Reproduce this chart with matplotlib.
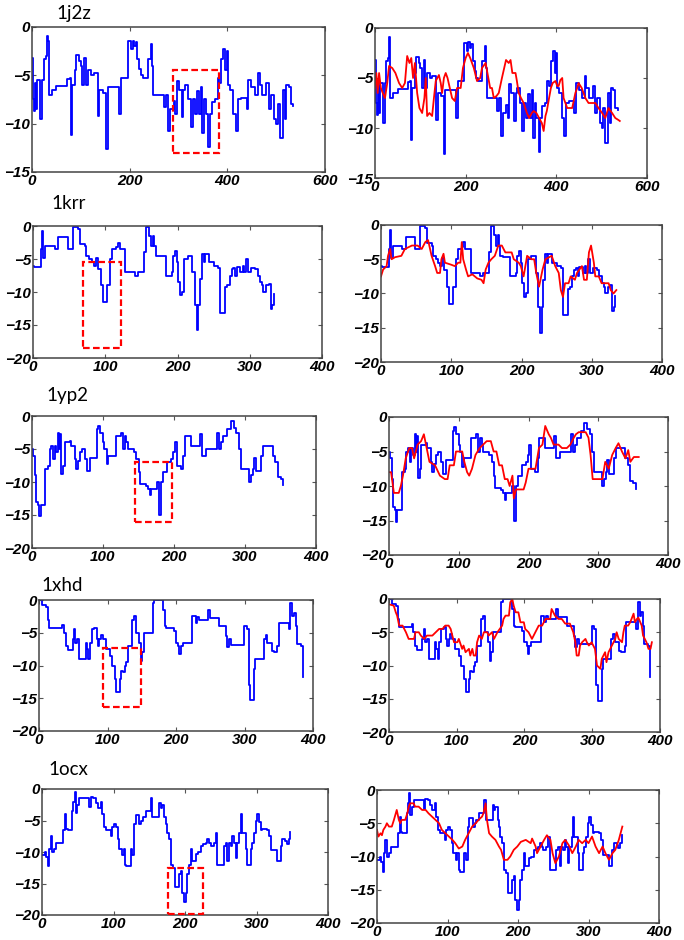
import matplotlib
matplotlib.use("Agg")
import matplotlib.pyplot as plt
from matplotlib.patches import Rectangle
from matplotlib.font_manager import FontProperties

# ---------------- data (x, y) ----------------
names = ["1j2z", "1krr", "1yp2", "1xhd", "1ocx"]

j2z_blue = [(0,-3.2),(2,-7.5),(4,-8.7),(6,-5.8),(8,-8.5),(10,-5.5),(17,-9.5),(21,-5.5),(24,-3.3),(28,-3.0),(30,-0.9),(32,-1.5),(34,-7.0),(40,-6.5),(50,-6.1),(72,-5.4),(78,-5.3),(79,-8.8),(80,-11.2),(82,-6.0),(88,-4.5),(91,-2.9),(96,-3.5),(100,-4.0),(103,-6.0),(107,-3.2),(111,-6.0),(115,-4.5),(121,-5.0),(126,-4.8),(135,-9.2),(138,-6.5),(146,-6.8),(152,-12.6),(155,-6.2),(179,-9.0),(183,-5.3),(196,-1.5),(203,-2.3),(206,-1.4),(209,-2.0),(212,-1.6),(216,-3.3),(220,-4.3),(223,-5.0),(228,-5.3),(237,-3.3),(243,-1.8),(245,-4.0),(247,-7.0),(270,-8.3),(274,-7.0),(279,-10.8),(282,-8.5),(290,-7.7),(293,-9.0),(296,-5.6),(301,-6.5),(307,-9.3),(310,-6.5),(314,-6.0),(320,-7.5),(325,-10.3),(329,-7.5),(333,-9.0),(337,-6.6),(342,-9.0),(346,-6.2),(349,-11.0),(352,-7.5),(356,-9.0),(361,-12.4),(364,-9.0),(368,-7.8),(375,-7.5),(380,-5.3),(383,-5.8),(388,-3.3),(392,-2.3),(396,-4.5),(399,-2.5),(402,-6.0),(406,-6.5),(412,-9.0),(418,-10.8),(422,-7.5),(428,-7.3),(440,-8.5),(443,-5.5),(449,-6.2),(456,-7.0),(463,-4.8),(466,-6.0),(472,-7.0),(480,-5.8),(485,-8.5),(490,-7.0),(496,-9.5),(500,-10.0),(504,-8.0),(508,-11.5),(515,-6.5),(518,-9.5),(521,-6.0),(526,-6.2),(530,-8.0),(535,-8.2)]

j2z_red = [(0,-6.0),(3,-4.5),(6,-6.5),(9,-4.5),(13,-6.0),(17,-6.5),(22,-7.0),(27,-5.5),(31,-3.8),(38,-4.0),(45,-4.5),(53,-5.5),(60,-6.0),(66,-5.5),(71,-2.8),(76,-3.5),(80,-3.0),(84,-5.0),(88,-3.5),(93,-6.5),(98,-8.0),(104,-8.5),(109,-7.0),(112,-5.0),(115,-8.8),(120,-8.5),(126,-8.8),(130,-7.0),(134,-5.3),(141,-4.7),(145,-5.5),(148,-6.5),(152,-5.0),(156,-4.5),(160,-5.0),(165,-6.0),(170,-7.0),(176,-7.3),(181,-6.0),(189,-6.0),(194,-4.0),(200,-3.0),(205,-2.5),(210,-3.0),(214,-3.5),(218,-4.0),(225,-5.3),(232,-5.0),(236,-4.0),(244,-3.5),(250,-5.0),(254,-6.0),(258,-6.0),(262,-7.0),(268,-6.8),(273,-6.5),(280,-5.0),(285,-4.0),(289,-3.2),(295,-3.5),(299,-3.2),(303,-4.5),(310,-4.5),(313,-5.3),(317,-6.5),(322,-7.0),(328,-7.5),(335,-8.5),(340,-9.0),(346,-8.5),(350,-8.3),(356,-8.5),(362,-9.0),(368,-9.5),(372,-10.3),(376,-8.8),(379,-8.3),(384,-7.0),(388,-6.0),(392,-5.5),(398,-5.3),(402,-5.8),(405,-5.8),(409,-5.2),(413,-5.0),(416,-7.0),(420,-7.5),(424,-8.0),(435,-8.0),(442,-6.5),(446,-6.0),(449,-5.5),(456,-6.0),(464,-7.0),(471,-7.5),(486,-7.5),(493,-8.0),(501,-8.5),(508,-9.0),(515,-8.0),(523,-8.5),(530,-9.0),(537,-9.2),(540,-9.3)]

krr_blue = [(0,-6.0),(2,-6.2),(11,-3.5),(13,-0.7),(14,-4.8),(17,-3.0),(30,-3.5),(35,-1.7),(49,-3.5),(56,-0.2),(62,-0.5),(65,-2.7),(72,-3.0),(74,-4.5),(78,-5.0),(81,-5.5),(84,-6.0),(87,-4.8),(90,-6.5),(94,-9.0),(97,-11.5),(103,-9.0),(107,-5.0),(110,-3.5),(115,-3.2),(117,-2.5),(120,-3.5),(128,-7.0),(141,-7.5),(145,-7.0),(154,-4.0),(157,-0.2),(161,-1.5),(163,-3.0),(166,-1.5),(168,-3.0),(170,-4.5),(173,-4.6),(184,-7.5),(192,-7.0),(194,-4.5),(196,-3.8),(199,-5.5),(201,-8.5),(203,-10.5),(206,-10.0),(209,-5.0),(214,-4.5),(220,-7.0),(224,-12.0),(227,-15.8),(229,-12.0),(231,-8.0),(234,-4.2),(236,-5.5),(238,-4.3),(244,-5.5),(250,-6.0),(256,-6.3),(259,-13.2),(266,-9.3),(269,-9.0),(272,-7.5),(275,-6.5),(277,-6.3),(280,-7.5),(282,-6.2),(287,-7.0),(290,-6.0),(292,-7.0),(295,-5.0),(298,-7.0),(302,-6.3),(307,-6.5),(311,-7.5),(314,-8.5),(317,-9.0),(319,-10.0),(323,-9.0),(326,-8.8),(329,-12.5),(331,-12.0),(333,-10.3)]

krr_red = [(0,-7.5),(3,-6.5),(8,-6.0),(10,-4.5),(13,-3.5),(15,-5.0),(20,-4.7),(29,-4.5),(34,-3.5),(44,-3.0),(52,-3.0),(58,-3.5),(63,-2.5),(67,-2.2),(72,-4.5),(77,-6.0),(80,-7.0),(84,-7.0),(86,-5.0),(89,-4.2),(91,-5.5),(100,-5.8),(105,-6.0),(110,-5.5),(113,-5.5),(115,-2.5),(117,-5.0),(121,-6.5),(124,-7.5),(130,-7.2),(137,-7.8),(143,-8.0),(146,-8.5),(149,-6.5),(153,-5.5),(157,-5.0),(162,-4.5),(167,-3.0),(172,-3.0),(177,-4.0),(186,-4.0),(189,-5.0),(196,-5.5),(199,-6.0),(203,-7.5),(208,-4.5),(214,-5.0),(218,-5.0),(221,-7.0),(225,-9.0),(227,-8.0),(230,-6.5),(234,-5.0),(243,-4.5),(248,-6.0),(253,-7.0),(256,-9.5),(259,-10.5),(262,-8.5),(267,-8.5),(270,-7.5),(276,-8.0),(279,-7.0),(286,-6.0),(289,-8.0),(293,-8.0),(296,-4.0),(299,-3.0),(303,-5.5),(305,-7.5),(310,-7.5),(314,-8.5),(324,-8.5),(327,-9.5),(331,-10.0),(335,-9.5)]

yp2_blue = [(0,-5.0),(1,-6.0),(4,-9.0),(6,-13.0),(8,-13.5),(10,-15.2),(12,-13.5),(18,-13.5),(19,-8.0),(23,-7.5),(25,-5.0),(27,-4.5),(30,-6.5),(32,-4.5),(34,-5.5),(37,-2.5),(38,-5.0),(40,-2.7),(41,-8.8),(44,-7.5),(46,-4.0),(53,-3.8),(55,-4.5),(60,-6.5),(62,-8.0),(65,-6.8),(67,-5.5),(70,-5.0),(74,-6.5),(77,-8.3),(82,-6.3),(92,-2.0),(93,-1.5),(96,-2.5),(100,-4.0),(102,-5.0),(105,-7.2),(107,-6.0),(118,-3.0),(125,-2.5),(128,-5.0),(131,-3.0),(133,-4.0),(135,-5.0),(143,-5.5),(147,-6.5),(150,-8.5),(152,-10.3),(160,-10.6),(164,-11.0),(166,-12.0),(168,-11.0),(176,-10.0),(179,-15.0),(182,-10.0),(185,-8.5),(190,-7.0),(196,-6.5),(199,-5.5),(201,-4.0),(204,-7.5),(210,-8.0),(213,-6.0),(215,-3.0),(224,-4.5),(237,-2.8),(240,-6.0),(245,-5.0),(261,-2.5),(264,-5.0),(266,-4.0),(269,-3.0),(275,-2.0),(280,-0.8),(284,-1.8),(288,-2.5),(291,-5.0),(294,-8.0),(306,-10.0),(308,-9.0),(311,-8.0),(313,-6.3),(315,-8.3),(322,-6.0),(325,-4.5),(339,-6.0),(342,-7.0),(346,-9.3),(350,-9.6),(354,-10.5)]

yp2_red = [(0,-8.0),(3,-8.0),(5,-9.5),(7,-11.0),(14,-11.0),(17,-10.0),(20,-8.5),(24,-6.0),(29,-4.5),(33,-4.5),(36,-6.0),(41,-4.0),(46,-3.5),(50,-2.5),(53,-4.0),(58,-6.5),(66,-7.0),(73,-8.5),(80,-9.0),(84,-9.0),(87,-7.0),(93,-7.0),(96,-5.0),(105,-5.0),(108,-6.5),(112,-8.0),(115,-8.5),(119,-7.5),(124,-5.5),(130,-4.5),(135,-4.0),(140,-3.5),(146,-3.5),(150,-5.0),(154,-5.0),(158,-7.0),(162,-7.0),(166,-9.0),(170,-9.0),(173,-10.0),(177,-8.5),(179,-11.8),(182,-10.5),(193,-10.5),(196,-9.5),(200,-7.5),(210,-7.5),(215,-4.5),(220,-4.0),(224,-1.3),(229,-2.5),(232,-3.0),(236,-4.0),(243,-4.0),(248,-4.5),(255,-4.5),(260,-4.0),(265,-3.0),(268,-2.5),(272,-2.2),(282,-2.2),(286,-3.0),(289,-5.5),(292,-9.0),(306,-9.0),(310,-6.5),(315,-7.5),(320,-5.5),(325,-4.5),(329,-3.8),(334,-5.0),(339,-6.0),(343,-4.8),(346,-6.5),(351,-5.8),(358,-5.8)]

xhd_blue = [(0,0.0),(5,-0.8),(10,-1.0),(13,-3.0),(15,-4.2),(34,-3.8),(36,-5.0),(39,-7.0),(42,-7.7),(49,-6.0),(51,-4.5),(53,-6.5),(56,-6.0),(59,-9.0),(68,-6.5),(70,-7.5),(72,-9.0),(74,-6.5),(77,-4.5),(81,-4.2),(84,-6.0),(86,-7.0),(88,-6.0),(90,-5.3),(93,-6.0),(98,-7.5),(103,-8.5),(107,-10.0),(111,-12.0),(113,-14.0),(118,-12.0),(120,-10.8),(122,-11.0),(125,-10.0),(127,-9.5),(130,-7.0),(136,-3.0),(139,-2.5),(142,-5.0),(146,-6.5),(149,-9.3),(151,-8.0),(154,-5.0),(166,-0.5),(168,0.0),(181,-1.5),(184,-4.0),(186,-4.2),(197,-4.8),(200,-6.5),(203,-7.0),(205,-8.2),(207,-7.0),(210,-6.5),(224,-2.5),(229,-3.5),(231,-2.6),(234,-3.0),(246,-1.5),(250,-2.7),(263,-4.0),(273,-5.5),(275,-7.2),(278,-6.0),(280,-6.8),(299,-4.0),(303,-4.5),(306,-13.0),(308,-15.3),(314,-10.5),(316,-9.0),(328,-6.0),(331,-5.3),(333,-6.5),(340,-7.8),(343,-8.0),(348,-7.0),(350,-3.5),(365,-4.5),(367,-0.5),(370,-2.5),(372,-2.0),(375,-4.0),(377,-6.7),(383,-7.0),(385,-11.8)]

xhd_red = [(0,-0.8),(7,-1.0),(10,-2.0),(12,-2.5),(15,-4.0),(20,-4.0),(25,-5.0),(29,-6.0),(37,-6.0),(39,-5.0),(44,-5.0),(47,-5.5),(52,-6.0),(56,-5.5),(64,-5.5),(69,-5.0),(74,-4.5),(79,-4.5),(83,-4.0),(88,-4.0),(91,-4.5),(96,-6.5),(101,-6.5),(103,-6.0),(108,-7.5),(110,-7.0),(113,-8.0),(118,-7.5),(120,-8.5),(123,-7.5),(125,-8.5),(128,-8.5),(130,-6.5),(133,-5.5),(137,-6.0),(140,-5.0),(145,-5.0),(147,-5.5),(152,-5.0),(155,-6.0),(160,-5.0),(167,-4.0),(169,-3.0),(172,-2.5),(177,-2.5),(179,-0.5),(182,0.0),(184,-1.0),(187,-2.0),(191,-2.0),(194,-3.5),(199,-3.5),(201,-4.5),(206,-5.0),(211,-6.0),(216,-5.0),(221,-4.0),(226,-4.0),(231,-3.0),(238,-3.0),(240,-1.5),(245,-2.5),(250,-3.0),(255,-3.0),(260,-3.7),(267,-3.7),(272,-5.0),(275,-6.5),(277,-8.5),(280,-8.5),(282,-7.0),(285,-6.5),(290,-6.0),(292,-6.5),(295,-7.0),(299,-6.5),(304,-7.5),(307,-10.0),(312,-10.5),(314,-9.0),(319,-8.0),(321,-9.5),(324,-8.0),(329,-7.0),(334,-6.0),(336,-5.0),(339,-6.0),(344,-6.5),(346,-5.0),(348,-4.0),(353,-4.0),(356,-3.5),(358,-3.0),(361,-2.2),(363,-3.5),(366,-3.0),(368,-2.8),(373,-4.0),(375,-5.5),(380,-6.5),(383,-7.5),(386,-7.5),(388,-6.5)]

ocx_blue = [(0,-10.5),(4,-10.0),(6,-10.8),(8,-12.3),(10,-9.5),(12,-7.5),(14,-10.0),(17,-9.5),(20,-8.5),(30,-6.5),(32,-4.0),(34,-6.3),(36,-6.5),(42,-3.5),(44,-2.0),(46,-0.5),(47,-3.8),(49,-2.5),(52,-1.5),(66,-2.8),(68,-1.3),(72,-1.5),(75,-2.3),(78,-3.0),(82,-2.0),(84,-4.0),(87,-6.0),(90,-6.5),(96,-7.5),(98,-6.0),(101,-5.5),(104,-6.0),(106,-8.0),(108,-9.5),(112,-10.5),(114,-9.5),(116,-12.0),(118,-12.3),(124,-9.5),(126,-10.5),(129,-5.5),(131,-4.2),(136,-5.5),(139,-5.0),(141,-4.5),(145,-3.5),(152,-1.5),(154,-4.5),(164,-2.3),(166,-3.0),(168,-2.5),(171,-4.5),(173,-5.5),(175,-7.0),(178,-8.0),(180,-12.0),(183,-12.5),(186,-15.5),(192,-13.5),(194,-13.0),(196,-16.5),(199,-18.0),(201,-16.5),(203,-13.5),(205,-12.0),(208,-9.5),(210,-11.5),(215,-10.3),(218,-10.0),(222,-9.0),(225,-8.8),(229,-8.5),(231,-8.0),(234,-8.5),(236,-9.0),(240,-8.5),(243,-7.0),(245,-12.0),(254,-9.0),(257,-8.5),(259,-11.5),(261,-8.5),(264,-9.0),(266,-7.5),(268,-8.5),(271,-11.0),(273,-8.5),(276,-7.0),(278,-4.0),(280,-7.0),(285,-9.5),(287,-12.0),(292,-9.5),(294,-8.5),(296,-7.0),(299,-5.0),(301,-4.0),(303,-5.3),(306,-6.5),(308,-6.3),(315,-6.5),(318,-7.5),(320,-9.7),(329,-11.5),(334,-9.0),(336,-8.0),(340,-8.3),(342,-8.7),(345,-8.0),(347,-6.8)]

ocx_red = [(0,-6.0),(2,-7.0),(5,-6.5),(7,-6.8),(9,-6.0),(12,-5.5),(14,-5.0),(17,-5.5),(21,-5.5),(24,-4.5),(28,-3.0),(31,-4.5),(33,-5.0),(35,-4.5),(40,-4.5),(43,-3.5),(45,-2.5),(47,-2.0),(52,-2.0),(54,-2.5),(59,-2.5),(64,-3.0),(69,-3.0),(73,-3.5),(78,-4.0),(83,-4.5),(88,-5.0),(92,-6.0),(97,-6.5),(102,-7.0),(107,-7.5),(111,-8.0),(116,-8.8),(121,-8.5),(125,-7.5),(130,-6.5),(135,-5.5),(140,-5.0),(144,-4.5),(149,-4.0),(151,-3.5),(154,-2.0),(156,-4.5),(159,-6.5),(163,-7.0),(168,-7.5),(173,-8.5),(176,-9.0),(180,-10.5),(185,-10.5),(189,-10.0),(194,-9.0),(199,-8.5),(204,-7.8),(211,-7.5),(218,-8.0),(220,-7.3),(225,-8.5),(227,-9.5),(232,-8.5),(237,-7.5),(241,-6.8),(246,-7.5),(249,-9.5),(253,-11.0),(258,-10.0),(263,-8.0),(267,-7.5),(272,-8.3),(277,-9.5),(282,-8.5),(286,-7.5),(291,-8.0),(296,-7.5),(300,-8.0),(305,-7.0),(310,-8.5),(315,-9.5),(320,-8.5),(324,-9.5),(329,-10.5),(334,-9.5),(338,-9.0),(343,-7.5),(348,-5.5)]

blue_series = [j2z_blue, krr_blue, yp2_blue, xhd_blue, ocx_blue]
red_series = [j2z_red, krr_red, yp2_red, xhd_red, ocx_red]

# highlighted regions: (x0, x1, y_bottom, y_top)
boxes = [(289, 383, -13.0, -4.5), (69, 122, -18.5, -5.5), (145, 197, -16.0, -7.0),
         (93, 149, -16.3, -7.3), (176, 225, -19.8, -12.5)]

x_limits = [600, 400, 400, 400, 400]
x_steps = [200, 100, 100, 100, 100]
y_limits = [-15, -20, -20, -20, -20]

# ---------------- layout (pixel boxes: x0, x1, y_top, y_bottom) ----------------
W, H = 684, 940
left_px = [(32, 325, 27, 172), (33, 322, 226, 358), (32, 316, 416, 548), (39, 313, 600, 731), (42, 328, 789, 915)]
right_px = [(375, 647, 28, 178), (381, 662, 225, 362), (389, 668, 417, 555), (389, 660, 599, 732), (377, 659, 790, 923)]
title_px = [(56, 19), (51, 209), (46, 401), (41, 591), (48, 775)]

BLUE = "#0000ff"
RED = "#ff0000"

fig = plt.figure(figsize=(W / 100, H / 100), dpi=100)
fig.patch.set_facecolor("white")

tick_fp = FontProperties(family="Liberation Sans", weight="bold", style="italic", size=11)


def make_ax(px, i):
    x0, x1, yt, yb = px
    ax = fig.add_axes([x0 / W, 1 - yb / H, (x1 - x0) / W, (yb - yt) / H])
    ax.set_xlim(0, x_limits[i])
    ax.set_ylim(y_limits[i], 0)
    ax.set_xticks(range(0, x_limits[i] + 1, x_steps[i]))
    ax.set_yticks(range(y_limits[i], 1, 5))
    ax.tick_params(direction="in", top=True, right=True, length=3, width=0.8,
                   colors="#555555", labelcolor="black", pad=1.5)
    for lab in ax.get_xticklabels() + ax.get_yticklabels():
        lab.set_fontproperties(tick_fp)
    for s in ax.spines.values():
        s.set_color("#444444")
        s.set_linewidth(1.1)
    return ax


def xy(pairs):
    return [p[0] for p in pairs], [p[1] for p in pairs]


for i in range(5):
    axl = make_ax(left_px[i], i)
    bx, by = xy(blue_series[i])
    axl.plot(bx, by, color=BLUE, lw=1.3, drawstyle="steps-post")
    b = boxes[i]
    axl.add_patch(Rectangle((b[0], b[2]), b[1] - b[0], b[3] - b[2], fill=False,
                            edgecolor=RED, lw=1.6, ls=(0, (3, 1.5)), zorder=5))

    axr = make_ax(right_px[i], i)
    axr.plot(bx, by, color=BLUE, lw=1.3, drawstyle="steps-post")
    rx, ry = xy(red_series[i])
    axr.plot(rx, ry, color=RED, lw=1.3)

    tx, ty = title_px[i]
    fig.text(tx / W, 1 - ty / H, names[i], family="Lato", size=13.5,
             ha="left", va="baseline", color="black")

fig.savefig("out.png", dpi=100, facecolor="white")
